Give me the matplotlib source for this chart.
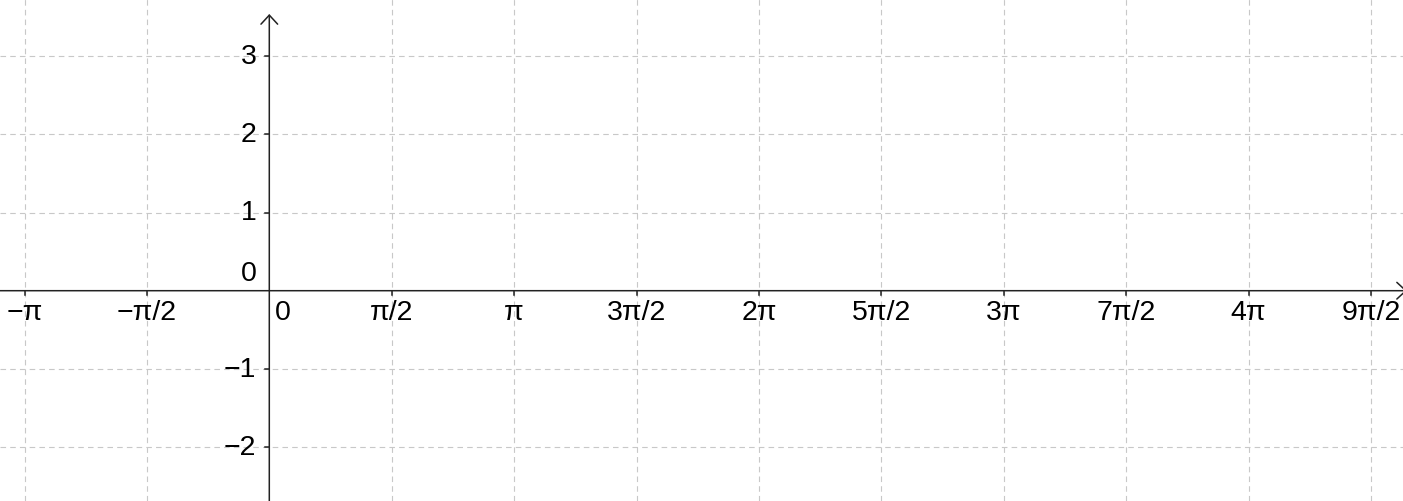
import numpy as np
import matplotlib.pyplot as plt

plt.rcParams['font.family'] = ['Liberation Sans', 'DejaVu Sans']
plt.rcParams['lines.scale_dashes'] = False

# ticks in units of pi/2 along x, plain integers along y
x_steps = [-2, -1, 0, 1, 2, 3, 4, 5, 6, 7, 8, 9]
x_labels = ['−π', '−π/2', '0', 'π/2', 'π', '3π/2', '2π', '5π/2', '3π', '7π/2', '4π', '9π/2']
y_ticks = [-2, -1, 0, 1, 2, 3]
y_labels = ['−2', '−1', '0', '1', '2', '3']

W, H = 1403, 502
ox, oy = 269.3, 291.7          # pixel position of the origin
px_x = 122.4 / (np.pi / 2)     # pixels per x unit
px_y = 78.2                    # pixels per y unit

fig = plt.figure(figsize=(W / 100, H / 100), dpi=100)
ax = fig.add_axes([0, 0, 1, 1])
ax.set_xlim(-ox / px_x, (W - ox) / px_x)
ax.set_ylim(-(H - oy) / px_y, oy / px_y)
ax.axis('off')

grid_kw = dict(color='#c8c8c8', lw=0.8, linestyle=(0, (4, 3)), zorder=1)
for k in x_steps:
    if k != 0:
        ax.axvline(k * np.pi / 2, **grid_kw)
for v in y_ticks:
    if v != 0:
        ax.axhline(v, **grid_kw)

# axes with open arrow heads (x arrow tip runs just past the right edge)
x0, x1 = ax.get_xlim()
y0, y1 = ax.get_ylim()
arrow = dict(arrowstyle='->,head_length=0.65,head_width=0.6', color='#222222',
             lw=1.1, shrinkA=0, shrinkB=0)
ax.annotate('', xy=(x1 + 4 / px_x, 0), xytext=(x0, 0), arrowprops=arrow,
            annotation_clip=False)
ax.annotate('', xy=(0, y1 - 15 / px_y), xytext=(0, y0), arrowprops=arrow)

# tick marks
for k in x_steps:
    if k != 0:
        ax.plot([k * np.pi / 2] * 2, [0, -4 / px_y], color='#222222', lw=1.1)
for v in y_ticks:
    if v != 0:
        ax.plot([0, -4 / px_x], [v, v], color='#222222', lw=1.1)

fs = 20.5
for k, lab in zip(x_steps, x_labels):
    if k == 0:
        ax.annotate(lab, (0, 0), xytext=(6, -8), textcoords='offset pixels',
                    ha='left', va='top', fontsize=fs)
    else:
        ax.annotate(lab, (k * np.pi / 2, 0), xytext=(0, -8), textcoords='offset pixels',
                    ha='center', va='top', fontsize=fs)
for v, lab in zip(y_ticks, y_labels):
    if v == 0:
        ax.annotate(lab, (0, 0), xytext=(-13, 5), textcoords='offset pixels',
                    ha='right', va='bottom', fontsize=fs)
    else:
        ax.annotate(lab, (0, v), xytext=(-13, 0), textcoords='offset pixels',
                    ha='right', va='center', fontsize=fs)

fig.savefig('out.png', dpi=100)
